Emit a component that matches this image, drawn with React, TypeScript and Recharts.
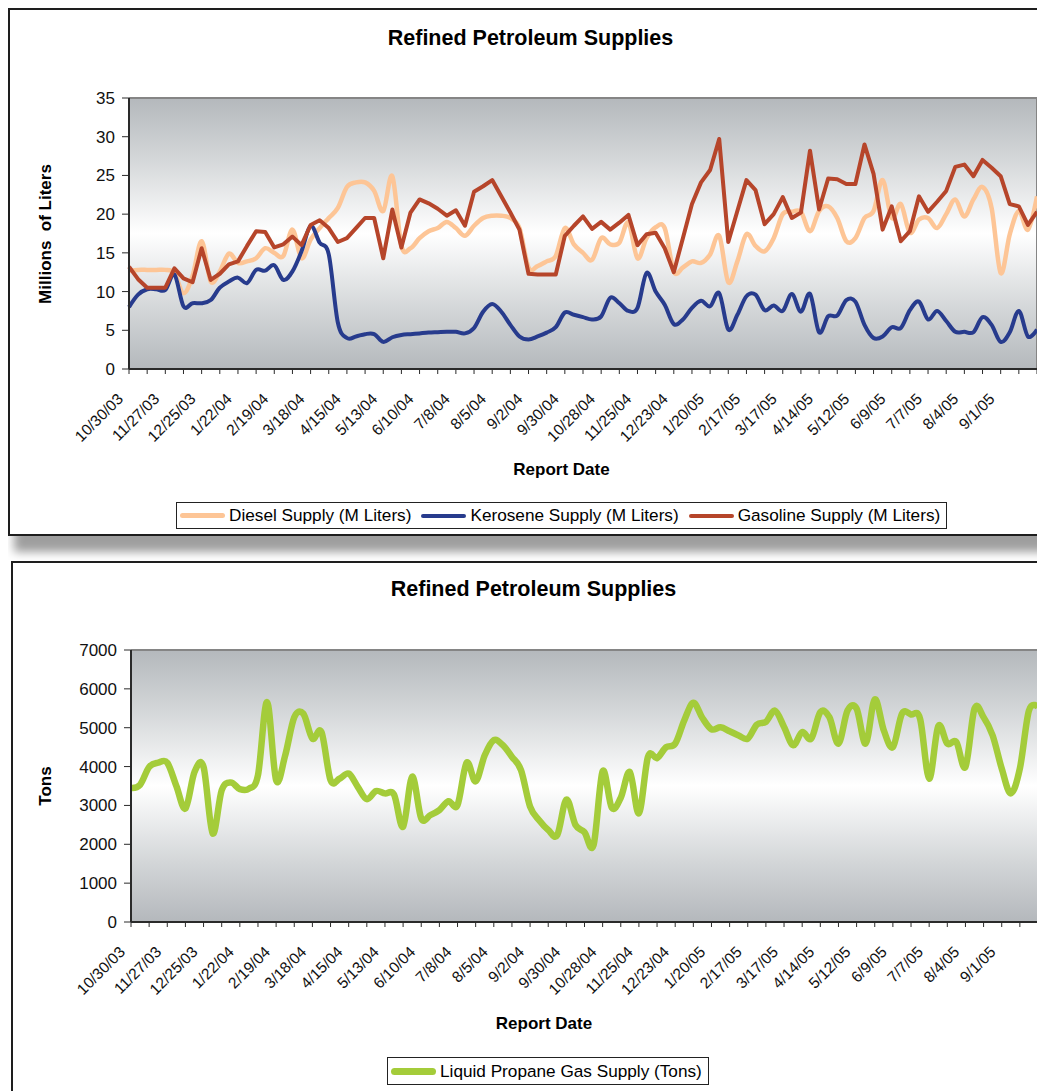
import React from "react";
import { LineChart, Line, XAxis, YAxis, CartesianGrid, ReferenceLine } from "recharts";

const FONT = "'Liberation Sans', Arial, Helvetica, sans-serif";

// weekly report dates
const dates = [
  "10/30/03", "11/6/03", "11/13/03", "11/20/03", "11/27/03", "12/4/03", "12/11/03", "12/18/03", "12/25/03", "1/1/04",
  "1/8/04", "1/15/04", "1/22/04", "1/29/04", "2/5/04", "2/12/04", "2/19/04", "2/26/04", "3/4/04", "3/11/04",
  "3/18/04", "3/25/04", "4/1/04", "4/8/04", "4/15/04", "4/22/04", "4/29/04", "5/6/04", "5/13/04", "5/20/04",
  "5/27/04", "6/3/04", "6/10/04", "6/17/04", "6/24/04", "7/1/04", "7/8/04", "7/15/04", "7/22/04", "7/29/04",
  "8/5/04", "8/12/04", "8/19/04", "8/26/04", "9/2/04", "9/9/04", "9/16/04", "9/23/04", "9/30/04", "10/7/04",
  "10/14/04", "10/21/04", "10/28/04", "11/4/04", "11/11/04", "11/18/04", "11/25/04", "12/2/04", "12/9/04", "12/16/04",
  "12/23/04", "12/30/04", "1/6/05", "1/13/05", "1/20/05", "1/27/05", "2/3/05", "2/10/05", "2/17/05", "2/24/05",
  "3/3/05", "3/10/05", "3/17/05", "3/24/05", "3/31/05", "4/7/05", "4/14/05", "4/21/05", "4/28/05", "5/5/05",
  "5/12/05", "5/19/05", "5/26/05", "6/2/05", "6/9/05", "6/16/05", "6/23/05", "6/30/05", "7/7/05", "7/14/05",
  "7/21/05", "7/28/05", "8/4/05", "8/11/05", "8/18/05", "8/25/05", "9/1/05", "9/8/05", "9/15/05", "9/22/05",
  "9/29/05",
];

// millions of liters
const diesel = [
  12.7, 12.8, 12.8, 12.8, 12.8, 12.4, 9.8, 12.0, 16.5, 11.3,
  12.6, 14.9, 13.7, 13.9, 14.3, 15.6, 15.0, 14.6, 18.0, 14.3,
  16.7, 18.2, 19.5, 20.8, 23.5, 24.1, 24.1, 23.0, 20.4, 24.9,
  15.9, 15.6, 16.9, 17.8, 18.2, 19.0, 18.2, 17.2, 18.5, 19.5,
  19.8, 19.8, 19.5, 18.2, 13.1, 13.3, 13.9, 14.6, 18.2, 16.1,
  15.0, 14.1, 16.9, 16.1, 16.3, 18.9, 14.3, 16.9, 18.3, 18.2,
  12.6, 13.1, 13.9, 13.7, 14.8, 17.2, 11.2, 13.9, 17.4, 15.9,
  15.2, 16.9, 20.0, 20.3, 20.3, 17.8, 20.4, 21.0, 19.5, 16.5,
  16.9, 19.5, 20.4, 24.4, 19.5, 21.3, 17.6, 19.3, 19.5, 18.2,
  20.0, 21.9, 19.7, 21.9, 23.5, 20.8, 12.4, 17.4, 20.4, 18.0,
  22.3,
];

const kerosene = [
  8.0, 9.6, 10.3, 10.3, 10.2, 12.2, 8.1, 8.5, 8.5, 8.9,
  10.5, 11.3, 11.8, 11.1, 12.8, 12.7, 13.4, 11.5, 12.6, 15.2,
  18.5, 16.3, 14.8, 6.0, 4.0, 4.2, 4.5, 4.5, 3.5, 4.1,
  4.4, 4.5, 4.6, 4.7, 4.75, 4.8, 4.8, 4.6, 5.3, 7.4,
  8.4, 7.4, 5.7, 4.2, 3.8, 4.2, 4.7, 5.4, 7.3, 7.0,
  6.7, 6.4, 6.8, 9.2, 8.5, 7.5, 7.9, 12.4, 10.0, 8.3,
  5.8, 6.4, 7.9, 8.8, 8.1, 9.8, 5.1, 7.0, 9.4, 9.6,
  7.6, 8.2, 7.5, 9.7, 7.4, 9.7, 4.75, 6.8, 6.9, 8.9,
  8.7, 5.7, 4.0, 4.2, 5.4, 5.3, 7.6, 8.7, 6.4, 7.5,
  6.2, 4.8, 4.8, 4.75, 6.7, 5.7, 3.5, 4.75, 7.5, 4.2,
  5.1,
];

const gasoline = [
  13.2, 11.6, 10.5, 10.5, 10.5, 13.0, 11.7, 11.2, 15.6, 11.5,
  12.3, 13.5, 13.9, 15.9, 17.8, 17.7, 15.7, 16.1, 17.1, 16.0,
  18.6, 19.2, 18.2, 16.4, 16.9, 18.2, 19.5, 19.5, 14.3, 20.6,
  15.7, 20.2, 21.9, 21.4, 20.7, 19.8, 20.5, 18.5, 22.9, 23.6,
  24.4, 22.3, 20.2, 18.0, 12.3, 12.2, 12.2, 12.2, 17.2, 18.5,
  19.7, 18.1, 19.0, 18.0, 18.9, 19.9, 16.0, 17.4, 17.6, 15.6,
  12.5, 16.9, 21.3, 24.1, 25.7, 29.7, 16.4, 20.4, 24.4, 23.1,
  18.7, 20.0, 22.2, 19.5, 20.2, 28.2, 20.6, 24.6, 24.5, 23.9,
  23.9, 29.0, 25.2, 18.0, 21.0, 16.5, 17.8, 22.3, 20.3, 21.6,
  23.0, 26.1, 26.4, 24.9, 27.0, 26.0, 24.9, 21.3, 21.0, 18.6,
  20.3,
];

// tons
const propane = [
  3450, 3530, 3990, 4100, 4100, 3500, 2920, 3860, 3990, 2280,
  3390, 3590, 3420, 3430, 3780, 5660, 3650, 4290, 5270, 5360,
  4720, 4890, 3650, 3690, 3820, 3480, 3160, 3370, 3310, 3280,
  2450, 3740, 2670, 2750, 2880, 3110, 3010, 4100, 3620, 4290,
  4680, 4550, 4250, 3910, 2970, 2620, 2370, 2240, 3150, 2500,
  2310, 1980, 3880, 2940, 3200, 3860, 2800, 4250, 4220, 4500,
  4590, 5190, 5640, 5250, 4960, 5010, 4910, 4800, 4720, 5080,
  5150, 5440, 5020, 4550, 4890, 4720, 5400, 5270, 4590, 5440,
  5490, 4590, 5730, 4930, 4500, 5360, 5340, 5230, 3690, 5040,
  4590, 4630, 3990, 5490, 5270, 4800, 3950, 3310, 3950, 5440,
  5530,
];

const literTicks = [0, 5, 10, 15, 20, 25, 30, 35];
const tonTicks = [0, 1000, 2000, 3000, 4000, 5000, 6000, 7000];

const chartTitle = "Refined Petroleum Supplies";
const fuelLegend = [
  { label: "Diesel Supply (M Liters)", color: "#FDC596", thick: 5 },
  { label: "Kerosene Supply (M Liters)", color: "#273B8D", thick: 4 },
  { label: "Gasoline Supply (M Liters)", color: "#B6452A", thick: 4 },
];
const propaneLegend = [{ label: "Liquid Propane Gas Supply (Tons)", color: "#A4CC3A", thick: 7 }];

const fuelRows = dates.map((date, i) => ({
  date,
  diesel: diesel[i],
  kerosene: kerosene[i],
  gasoline: gasoline[i],
}));
const propaneRows = dates.map((date, i) => ({ date, propane: propane[i] }));

// Excel-style smoothed line (Catmull-Rom through the points)
const excelSmooth = (context: any) => {
  let x0 = NaN, y0 = NaN, x1 = NaN, y1 = NaN, x2 = NaN, y2 = NaN;
  let state = 0;
  let line = NaN;
  const seg = (x: number, y: number) => {
    context.bezierCurveTo(
      x1 + (x2 - x0) / 6, y1 + (y2 - y0) / 6,
      x2 - (x - x1) / 6, y2 - (y - y1) / 6,
      x2, y2
    );
  };
  return {
    areaStart() { line = 0; },
    areaEnd() { line = NaN; },
    lineStart() { x0 = x1 = x2 = y0 = y1 = y2 = NaN; state = 0; },
    lineEnd() {
      if (state === 2) context.lineTo(x2, y2);
      else if (state === 3) seg(x1, y1);
      if (line || (line !== 0 && state === 1)) context.closePath();
      line = 1 - line;
    },
    point(x: number, y: number) {
      x = +x; y = +y;
      if (state === 0) { state = 1; if (line) context.lineTo(x, y); else context.moveTo(x, y); }
      else if (state === 1) { state = 2; x1 = x; y1 = y; }
      else { state = 3; seg(x, y); }
      x0 = x1; x1 = x2; x2 = x;
      y0 = y1; y1 = y2; y2 = y;
    },
  };
};

const renderDateTick = (props: any) => {
  const { x, y, payload } = props;
  const k = dates.indexOf(payload.value);
  // labels every 4th week; the final week has no label in the source
  if (k % 4 !== 0 || k === dates.length - 1) return <g />;
  const ax = x - 5;
  const ay = y + 26;
  return (
    <text x={ax} y={ay} transform={`rotate(-45 ${ax} ${ay})`} textAnchor="end" fontSize={15.5} fill="#111" fontFamily={FONT}>
      {payload.value}
    </text>
  );
};

const Txt = ({ cx, cy, size, bold, rotate, children }: any) => (
  <div
    style={{
      position: "absolute",
      left: cx - 8,
      top: cy - 8,
      transform: `translate(-50%, -50%)${rotate ? " rotate(-90deg)" : ""}`,
      fontFamily: FONT,
      fontSize: size,
      fontWeight: bold ? 700 : 400,
      lineHeight: 1,
      whiteSpace: "pre",
      color: "#000",
    }}
  >
    {children}
  </div>
);

const LegendBox = ({ left, top, height, items }: any) => (
  <div
    style={{
      position: "absolute",
      left: left - 8,
      top: top - 8,
      height,
      border: "1px solid #222",
      background: "#fff",
      display: "flex",
      alignItems: "center",
      padding: "0 6px 0 3px",
      fontFamily: FONT,
      fontSize: 17.2,
      whiteSpace: "pre",
      color: "#000",
    }}
  >
    {items.map((it: any, k: number) => (
      <div key={k} style={{ display: "flex", alignItems: "center", marginLeft: k ? 10 : 0 }}>
        <span style={{ display: "inline-block", width: 45, height: it.thick, background: it.color, marginRight: 4, borderRadius: it.thick / 2 }} />
        <span>{it.label}</span>
      </div>
    ))}
  </div>
);

const PlotGradient = ({ id }: { id: string }) => (
  <defs>
    <linearGradient id={id} x1="0" y1="0" x2="0" y2="1">
      <stop offset="0%" stopColor="#b4b8bc" />
      <stop offset="22%" stopColor="#d3d6d8" />
      <stop offset="50%" stopColor="#ffffff" />
      <stop offset="78%" stopColor="#d3d6d8" />
      <stop offset="100%" stopColor="#b4b8bc" />
    </linearGradient>
  </defs>
);

const axisTick = { fill: "#111", fontSize: 17, fontFamily: FONT };

export default function App() {
  return (
    <div style={{ position: "relative", width: 1037, height: 1083, overflow: "hidden" }}>
      <style>{"html,body{overflow:hidden}"}</style>

      {/* upper panel */}
      <div
        style={{
          position: "absolute", left: 0, top: 0, width: 1100, height: 528,
          border: "2px solid #1e1e1e", boxSizing: "border-box", background: "#fff",
          boxShadow: "6px 16px 9px rgba(0,0,0,0.38)",
        }}
      />
      <div style={{ position: "absolute", left: 2, top: 2 }}>
        <LineChart width={1035} height={520} data={fuelRows} margin={{ top: 88, right: 8, bottom: 0, left: 0 }}>
          <PlotGradient id="fuelBg" />
          <CartesianGrid horizontal={false} vertical={false} fill="url(#fuelBg)" fillOpacity={1} />
          <XAxis
            dataKey="date"
            interval={1}
            height={161}
            tickSize={5}
            tickMargin={0}
            tick={renderDateTick}
            axisLine={{ stroke: "#2a2a2a", strokeWidth: 2 }}
            tickLine={{ stroke: "#2a2a2a" }}
          />
          <YAxis
            type="number"
            width={119}
            domain={[0, 35]}
            ticks={literTicks}
            interval={0}
            tickSize={7}
            tickMargin={7}
            tick={axisTick}
            axisLine={{ stroke: "#2a2a2a", strokeWidth: 2 }}
            tickLine={{ stroke: "#2a2a2a" }}
          />
          <ReferenceLine y={35} stroke="#858585" strokeWidth={2} />
          <ReferenceLine x={dates[dates.length - 1]} stroke="#858585" strokeWidth={2} />
          <Line dataKey="diesel" type={excelSmooth as any} stroke="#FDC596" strokeWidth={4.5} dot={false} activeDot={false} isAnimationActive={false} strokeLinejoin="round" />
          <Line dataKey="kerosene" type={excelSmooth as any} stroke="#273B8D" strokeWidth={4} dot={false} activeDot={false} isAnimationActive={false} strokeLinejoin="round" />
          <Line dataKey="gasoline" type="linear" stroke="#B6452A" strokeWidth={4} dot={false} activeDot={false} isAnimationActive={false} strokeLinejoin="round" />
        </LineChart>
      </div>
      <Txt cx={530.5} cy={38.5} size={21.5} bold>{chartTitle}</Txt>
      <Txt cx={45} cy={233.5} size={17} bold rotate>{"Millions  of Liters"}</Txt>
      <Txt cx={561.5} cy={469} size={17} bold>Report Date</Txt>
      <LegendBox left={176} top={502} height={25} items={fuelLegend} />

      {/* lower panel */}
      <div
        style={{
          position: "absolute", left: 3, top: 553, width: 1100, height: 600,
          border: "2px solid #1e1e1e", boxSizing: "border-box", background: "#fff",
        }}
      />
      <div style={{ position: "absolute", left: 5, top: 555 }}>
        <LineChart width={1032} height={520} data={propaneRows} margin={{ top: 87, right: 7, bottom: 0, left: 0 }}>
          <PlotGradient id="propaneBg" />
          <CartesianGrid horizontal={false} vertical={false} fill="url(#propaneBg)" fillOpacity={1} />
          <XAxis
            dataKey="date"
            interval={1}
            height={161}
            tickSize={5}
            tickMargin={0}
            tick={renderDateTick}
            axisLine={{ stroke: "#2a2a2a", strokeWidth: 2 }}
            tickLine={{ stroke: "#2a2a2a" }}
          />
          <YAxis
            type="number"
            width={118}
            domain={[0, 7000]}
            ticks={tonTicks}
            interval={0}
            tickSize={7}
            tickMargin={7}
            tick={axisTick}
            axisLine={{ stroke: "#2a2a2a", strokeWidth: 2 }}
            tickLine={{ stroke: "#2a2a2a" }}
          />
          <ReferenceLine y={7000} stroke="#858585" strokeWidth={2} />
          <ReferenceLine x={dates[dates.length - 1]} stroke="#858585" strokeWidth={2} />
          <Line dataKey="propane" type={excelSmooth as any} stroke="#A4CC3A" strokeWidth={6.5} dot={false} activeDot={false} isAnimationActive={false} strokeLinejoin="round" />
        </LineChart>
      </div>
      <Txt cx={533.5} cy={589.5} size={21.5} bold>{chartTitle}</Txt>
      <Txt cx={45} cy={786} size={17} bold rotate>Tons</Txt>
      <Txt cx={544} cy={1023} size={17} bold>Report Date</Txt>
      <LegendBox left={387} top={1057} height={26} items={propaneLegend} />
    </div>
  );
}
